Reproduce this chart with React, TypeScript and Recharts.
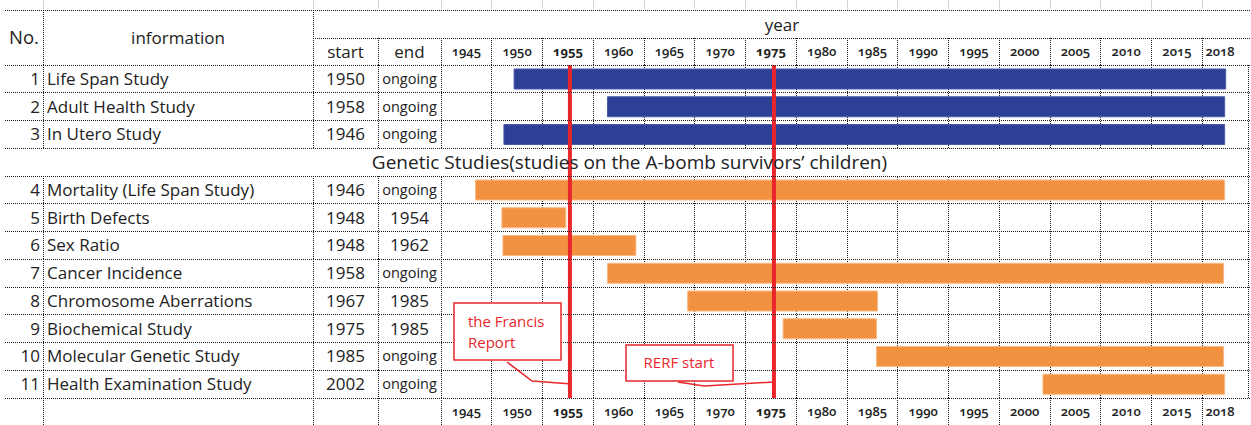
import {
  BarChart,
  Bar,
  XAxis,
  YAxis,
  CartesianGrid,
  ReferenceLine,
  ReferenceArea,
  Cell,
} from "recharts";

// table columns
const studyNo = [1, 2, 3, 4, 5, 6, 7, 8, 9, 10, 11];
const studyNames = [
  "Life Span Study",
  "Adult Health Study",
  "In Utero Study",
  "Mortality (Life Span Study)",
  "Birth Defects",
  "Sex Ratio",
  "Cancer Incidence",
  "Chromosome Aberrations",
  "Biochemical Study",
  "Molecular Genetic Study",
  "Health Examination Study",
];
const startLabels = ["1950", "1958", "1946", "1946", "1948", "1948", "1958", "1967", "1975", "1985", "2002"];
const endLabels = ["ongoing", "ongoing", "ongoing", "ongoing", "1954", "1962", "ongoing", "1985", "1985", "ongoing", "ongoing"];
const studyGroup = ["main", "main", "main", "genetic", "genetic", "genetic", "genetic", "genetic", "genetic", "genetic", "genetic"];

// bar extents as drawn in the picture (years)
const barStart = [1949.7, 1958.9, 1948.7, 1945.9, 1948.5, 1948.6, 1958.9, 1966.8, 1976.2, 1985.4, 2001.8];
const barEnd = [2019.8, 2019.7, 2019.7, 2019.7, 1954.8, 1961.7, 2019.6, 1985.5, 1985.4, 2019.6, 2019.7];

const groupTitle = "Genetic Studies(studies on the A-bomb survivors’ children)";

// year columns
const yearLabels = ["1945", "1950", "1955", "1960", "1965", "1970", "1975", "1980", "1985", "1990", "1995", "2000", "2005", "2010", "2015", "2018"];
const colEdges = [1942.5, 1947.5, 1952.5, 1957.5, 1962.5, 1967.5, 1972.5, 1977.5, 1982.5, 1987.5, 1992.5, 1997.5, 2002.5, 2007.5, 2012.5, 2017.5, 2021];
const boldYears = ["1955", "1975"];

// events
const eventYears = [1955.2, 1975.3];

const W = 1251;
const H = 425;
const TOP = 65;
const BOTTOM = 398;
const LEFT = 441;
const RIGHT = 1248;
const X_DOMAIN: [number, number] = [1942.5, 2022];
const PX_PER_YEAR = (RIGHT - LEFT) / (X_DOMAIN[1] - X_DOMAIN[0]);

const FONT = '"Open Sans", sans-serif';
const INK = "#222";
const RED = "#E8262C";
const BLUE = "#2D3F97";
const ORANGE = "#F29241";
const GRID = {
  stroke: "#1a1a1a",
  strokeWidth: 1,
  strokeDasharray: "1 1",
  shapeRendering: "crispEdges",
};

const colMids = yearLabels.map((_, i) => (colEdges[i] + colEdges[i + 1]) / 2);

type Row = {
  key: string;
  kind: "study" | "title";
  no?: number;
  name?: string;
  start?: string;
  end?: string;
  group?: string;
  span?: [number, number];
};

const studyRows: Row[] = studyNo.map((n, i) => ({
  key: "s" + n,
  kind: "study",
  no: n,
  name: studyNames[i],
  start: startLabels[i],
  end: endLabels[i],
  group: studyGroup[i],
  span: [barStart[i], barEnd[i]],
}));

const rows: Row[] = [
  ...studyRows.slice(0, 3),
  { key: "genetic", kind: "title" },
  ...studyRows.slice(3),
];

const BAND = (BOTTOM - TOP) / rows.length;

function RowTick(props: any) {
  const { y, payload } = props;
  const row = rows.find((r) => r.key === payload.value);
  if (!row) return null;
  if (row.kind === "title") {
    return (
      <text x={629.5} y={y} dy="0.35em" textAnchor="middle" fontFamily={FONT} fontSize={19} fill={INK}>
        {groupTitle}
      </text>
    );
  }
  const top = y - BAND / 2;
  const bot = y + BAND / 2;
  return (
    <g>
      <line x1={5} x2={W} y1={top} y2={top} {...GRID} />
      <line x1={5} x2={W} y1={bot} y2={bot} {...GRID} />
      {[43, 313, 378].map((x) => (
        <line key={x} x1={x} x2={x} y1={top} y2={bot} {...GRID} />
      ))}
      <text x={40} y={y} dy="0.35em" textAnchor="end" fontFamily={FONT} fontSize={17} fill={INK}>
        {row.no}
      </text>
      <text x={47} y={y} dy="0.35em" fontFamily={FONT} fontSize={17} fill={INK}>
        {row.name}
      </text>
      <text x={345.5} y={y} dy="0.35em" textAnchor="middle" fontFamily={FONT} fontSize={17} fill={INK}>
        {row.start}
      </text>
      <text
        x={409.5}
        y={y}
        dy="0.35em"
        textAnchor="middle"
        fontFamily={FONT}
        fontSize={row.end === "ongoing" ? 14.5 : 17}
        fill={INK}
      >
        {row.end}
      </text>
    </g>
  );
}

function YearTick(props: any) {
  const { x, payload, side } = props;
  const i = colMids.findIndex((m) => Math.abs(m - payload.value) < 1e-6);
  if (i < 0) return null;
  const label = yearLabels[i];
  const edgeX = x - (payload.value - colEdges[i]) * PX_PER_YEAR;
  const y1 = side === "top" ? 38 : BOTTOM;
  const y2 = side === "top" ? TOP : H;
  return (
    <g>
      <line x1={edgeX} x2={edgeX} y1={y1} y2={y2} {...GRID} />
      {side === "top" && (
        <line x1={edgeX} x2={edgeX} y1={0} y2={9} stroke="#d4d4d4" shapeRendering="crispEdges" />
      )}
      <text
        x={x}
        y={(y1 + y2) / 2}
        dy="0.35em"
        textAnchor="middle"
        fontFamily={FONT}
        fontSize={13}
        fontWeight={boldYears.includes(label) ? 700 : 600}
        fill={INK}
        style={{ fontVariantNumeric: "oldstyle-nums" }}
      >
        {label}
      </text>
    </g>
  );
}

function Overlay() {
  const txt = { fontFamily: FONT, fill: INK, fontSize: 17 };
  return (
    <svg width={W} height={H} style={{ position: "absolute", left: 0, top: 0, pointerEvents: "none" }}>
      {[43, 313, 378].map((x) => (
        <line key={"s" + x} x1={x} x2={x} y1={0} y2={9} stroke="#d4d4d4" shapeRendering="crispEdges" />
      ))}
      <line x1={5} x2={W} y1={10} y2={10} {...GRID} />
      <line x1={313} x2={W} y1={38} y2={38} {...GRID} />
      <line x1={43} x2={43} y1={10} y2={TOP} {...GRID} />
      <line x1={313} x2={313} y1={10} y2={TOP} {...GRID} />
      <line x1={378} x2={378} y1={38} y2={TOP} {...GRID} />
      {[43, 313, 378].map((x) => (
        <line key={"b" + x} x1={x} x2={x} y1={BOTTOM} y2={H} {...GRID} />
      ))}
      <text x={24} y={38} dy="0.35em" textAnchor="middle" {...txt} fontSize={18.5}>No.</text>
      <text x={178} y={38} dy="0.35em" textAnchor="middle" {...txt}>information</text>
      <text x={782} y={25} dy="0.35em" textAnchor="middle" {...txt}>year</text>
      <text x={345.5} y={52} dy="0.35em" textAnchor="middle" {...txt}>start</text>
      <text x={409.5} y={52} dy="0.35em" textAnchor="middle" {...txt}>end</text>

      {/* callouts */}
      <polyline points="507,362 532,381 572,384" fill="none" stroke={RED} strokeWidth={1.5} />
      <rect x={454} y={303} width={107} height={57} fill="#fff" stroke={RED} strokeWidth={1.5} />
      <text x={468} y={322} dy="0.35em" fontFamily={FONT} fontSize={15} fill={RED}>the Francis</text>
      <text x={468} y={343} dy="0.35em" fontFamily={FONT} fontSize={15} fill={RED}>Report</text>

      <polyline points="678,382 704,386 773,382" fill="none" stroke={RED} strokeWidth={1.5} />
      <rect x={626} y={345} width={107} height={36} fill="#fff" stroke={RED} strokeWidth={1.5} />
      <text x={679} y={363} dy="0.35em" textAnchor="middle" fontFamily={FONT} fontSize={15} fill={RED}>RERF start</text>
    </svg>
  );
}

export default function App() {
  return (
    <div style={{ position: "absolute", left: 0, top: 0, width: W, height: H, background: "#fff" }}>
      <BarChart
        width={W}
        height={H}
        layout="vertical"
        data={rows}
        margin={{ top: 38, right: W - RIGHT, bottom: 0, left: 0 }}
      >
        <XAxis type="number" domain={X_DOMAIN} ticks={colEdges.slice(0, -1)} allowDataOverflow hide />
        <CartesianGrid horizontal={false} {...GRID} />
        <ReferenceArea xAxisId="top" y1="genetic" y2="genetic" fill="#fff" fillOpacity={1} stroke="none" />
        <XAxis
          xAxisId="top"
          orientation="top"
          type="number"
          domain={X_DOMAIN}
          ticks={colMids}
          interval={0}
          allowDataOverflow
          height={27}
          axisLine={false}
          tickLine={false}
          tick={(p: any) => <YearTick {...p} side="top" />}
        />
        <XAxis
          xAxisId="bottom"
          orientation="bottom"
          type="number"
          domain={X_DOMAIN}
          ticks={colMids}
          interval={0}
          allowDataOverflow
          height={27}
          axisLine={false}
          tickLine={false}
          tick={(p: any) => <YearTick {...p} side="bottom" />}
        />
        <YAxis
          type="category"
          dataKey="key"
          width={LEFT}
          interval={0}
          axisLine={false}
          tickLine={false}
          tick={(p: any) => <RowTick {...p} />}
        />
        <Bar xAxisId="top" dataKey="span" barSize={20} isAnimationActive={false}>
          {rows.map((r) => (
            <Cell
              key={r.key}
              fill={r.group === "main" ? BLUE : ORANGE}
              stroke={r.group === "main" ? "#4a5aa8" : "#F8BB86"}
              strokeWidth={1}
            />
          ))}
        </Bar>
        {eventYears.map((yr) => (
          <ReferenceLine key={yr} xAxisId="top" x={yr} stroke={RED} strokeWidth={4} />
        ))}
      </BarChart>
      <Overlay />
    </div>
  );
}
